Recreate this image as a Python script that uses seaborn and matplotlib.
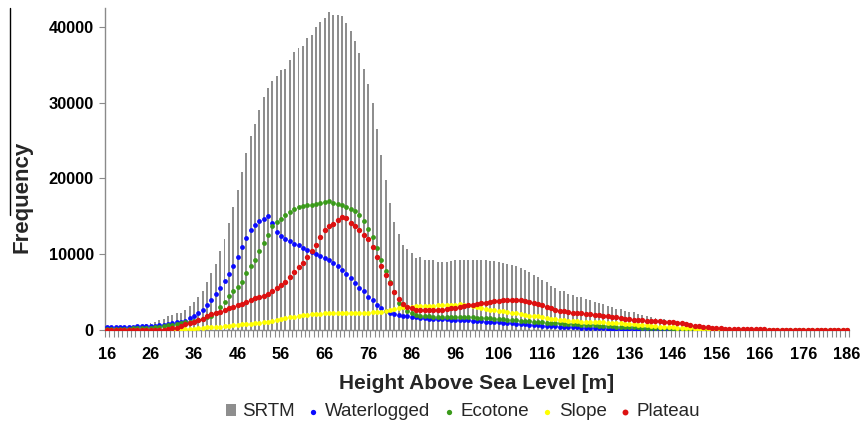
import numpy as np
import pandas as pd
import matplotlib
matplotlib.use("Agg")
import matplotlib.pyplot as plt
from matplotlib.lines import Line2D
from matplotlib.ticker import FixedLocator
import seaborn as sns

# ---------------- data ----------------
heights = list(range(16, 187))

srtm = [200, 250, 300, 350, 400, 450, 500, 600, 700, 800,
        900, 1100, 1300, 1500, 1800, 2000, 2200, 2300, 2600, 3200,
        3700, 4400, 5200, 6400, 7500, 8700, 10400, 12000, 14100, 16300,
        18500, 20800, 23300, 25600, 27200, 29100, 30700, 32000, 32800, 33500,
        34300, 34500, 35600, 36700, 37200, 37500, 38500, 39000, 40000, 40700,
        41200, 42000, 41600, 41600, 41500, 40500, 39500, 38200, 36500, 34500,
        32500, 29900, 26500, 23100, 19800, 16800, 14300, 12700, 11200, 10700,
        10100, 9500, 9600, 9200, 9200, 9250, 9000, 9000, 9000, 9100,
        9300, 9300, 9250, 9250, 9250, 9300, 9250, 9250, 9100, 9100,
        9000, 8800, 8700, 8600, 8400, 8150, 7900, 7600, 7300, 7000,
        6600, 6300, 5800, 5500, 5100, 5100, 4800, 4600, 4400, 4300,
        4050, 4000, 3700, 3500, 3400, 3200, 3100, 2800, 2800, 2550,
        2400, 2400, 2100, 2000, 1850, 1750, 1550, 1450, 1400, 1300,
        1200, 1100, 950, 900, 800, 700, 600, 500, 400, 350,
        300, 270, 240, 220, 200, 180, 170, 160, 150, 140,
        130, 120, 110, 100, 100, 90, 90, 80, 80, 80,
        70, 70, 70, 60, 60, 60, 50, 50, 50, 50, 50]

waterlogged = [400, 400, 400, 400, 420, 440, 450, 470, 480, 500,
               520, 560, 620, 700, 800, 900, 1000, 1100, 1250, 1600,
               1800, 2200, 2600, 3300, 4000, 4700, 5500, 6500, 7400, 8500,
               9700, 10900, 12200, 13200, 13900, 14400, 14700, 15000, 14100, 13000,
               12400, 12000, 11700, 11400, 11200, 10800, 10600, 10300, 10000, 9800,
               9500, 9250, 8800, 8500, 7900, 7400, 6800, 6200, 5600, 5100,
               4400, 4000, 3300, 2900, 2500, 2200, 2100, 2000, 1900, 1800,
               1700, 1650, 1600, 1550, 1500, 1480, 1450, 1420, 1400, 1370,
               1340, 1320, 1300, 1270, 1240, 1200, 1160, 1120, 1080, 1040,
               1000, 960, 920, 880, 840, 800, 760, 700, 660, 620,
               580, 550, 520, 490, 460, 430, 400, 370, 340, 310,
               280, 250, 230, 210, 200, 190, 180, 170, 160, 150,
               140, 130, 120, 110, 100, 100, 90, 90, 80, 80,
               70, 70, 60, 60, 50, 50, 50, 0, 0, 0,
               0, 0, 0, 0, 0, 0, 0, 0, 0, 0,
               0, 0, 0, 0, 0, 0, 0, 0, 0, 0,
               0, 0, 0, 0, 0, 0, 0, 0, 0, 0, 0]

ecotone = [100, 100, 120, 140, 160, 180, 200, 220, 250, 280,
           300, 350, 400, 500, 600, 700, 800, 900, 1000, 1100,
           1200, 1350, 1500, 1700, 1900, 2200, 3000, 3700, 4500, 5200,
           5700, 6400, 7500, 8400, 9300, 10400, 11500, 12600, 13700, 14300,
           14700, 15200, 15600, 16000, 16200, 16400, 16500, 16500, 16600, 16800,
           16900, 17000, 16700, 16600, 16500, 16200, 16000, 15700, 15200, 14400,
           13300, 12300, 10800, 9300, 7800, 6300, 5000, 3600, 3000, 2500,
           2200, 2000, 1900, 1850, 1800, 1780, 1760, 1750, 1740, 1730,
           1720, 1700, 1680, 1660, 1650, 1620, 1600, 1570, 1540, 1500,
           1460, 1420, 1380, 1340, 1300, 1250, 1200, 1150, 1100, 1060,
           1020, 980, 940, 900, 860, 820, 790, 760, 730, 700,
           670, 640, 610, 580, 550, 520, 490, 460, 430, 400,
           370, 350, 330, 310, 290, 270, 250, 230, 210, 200,
           180, 160, 140, 120, 100, 90, 80, 70, 60, 50,
           40, 30, 20, 20, 10, 0, 0, 0, 0, 0,
           0, 0, 0, 0, 0, 0, 0, 0, 0, 0,
           0, 0, 0, 0, 0, 0, 0, 0, 0, 0, 0]

slope = [0, 0, 0, 0, 0, 0, 0, 0, 0, 0,
         0, 0, 0, 0, 0, 20, 40, 60, 80, 100,
         150, 200, 280, 350, 400, 430, 450, 520, 580, 650,
         700, 750, 800, 850, 880, 920, 1000, 1050, 1150, 1300,
         1450, 1550, 1650, 1750, 1850, 1920, 2000, 2050, 2100, 2150,
         2200, 2250, 2250, 2300, 2300, 2300, 2300, 2300, 2300, 2300,
         2300, 2350, 2400, 2400, 2500, 2600, 2800, 2900, 3000, 3100,
         3100, 3150, 3200, 3200, 3200, 3200, 3250, 3250, 3300, 3300,
         3350, 3400, 3350, 3300, 3200, 3050, 2900, 2800, 2700, 2600,
         2500, 2450, 2350, 2300, 2200, 2100, 2000, 1900, 1850, 1800,
         1700, 1600, 1500, 1400, 1350, 1300, 1250, 1200, 1150, 1100,
         1080, 1060, 1040, 1020, 1000, 970, 940, 910, 880, 850,
         800, 750, 700, 650, 600, 550, 500, 460, 420, 380,
         340, 300, 260, 220, 200, 170, 140, 120, 100, 80,
         60, 40, 20, 0, 0, 0, 0, 0, 0, 0,
         0, 0, 0, 0, 0, 0, 0, 0, 0, 0,
         0, 0, 0, 0, 0, 0, 0, 0, 0, 0, 0]

plateau = [50, 50, 50, 50, 50, 50, 50, 50, 50, 50,
           50, 50, 50, 50, 100, 200, 300, 500, 750, 950,
           1100, 1300, 1500, 1850, 2100, 2300, 2400, 2650, 2900, 3100,
           3300, 3400, 3700, 4000, 4200, 4400, 4550, 4700, 5200, 5600,
           5900, 6400, 7000, 7700, 8300, 8800, 9700, 10400, 11200, 12300,
           13200, 13700, 14000, 14500, 14900, 14800, 14100, 13700, 13200, 12600,
           12000, 10900, 9700, 8400, 7300, 6200, 5000, 4100, 3450, 3100,
           2850, 2700, 2650, 2600, 2600, 2600, 2600, 2650, 2750, 2850,
           2950, 3050, 3150, 3250, 3350, 3450, 3550, 3600, 3700, 3800,
           3850, 3900, 3950, 4000, 3950, 3900, 3800, 3700, 3600, 3450,
           3300, 3100, 2900, 2700, 2550, 2450, 2400, 2300, 2250, 2200,
           2150, 2100, 2000, 1950, 1850, 1800, 1720, 1650, 1580, 1500,
           1420, 1380, 1330, 1280, 1230, 1200, 1170, 1130, 1100, 1080,
           1000, 930, 880, 800, 650, 580, 500, 430, 370, 300,
           250, 200, 150, 120, 100, 80, 80, 80, 70, 70,
           70, 70, 60, 60, 60, 60, 60, 60, 60, 60,
           50, 50, 50, 50, 50, 50, 50, 50, 50, 50, 50]

series_names = ["Waterlogged", "Ecotone", "Slope", "Plateau"]
series_colors = ["#0a0aff", "#3a9a1a", "#ffff00", "#dd1111"]
series_values = [waterlogged, ecotone, slope, plateau]
xtick_values = list(range(16, 187, 10))
ytick_values = [0, 10000, 20000, 30000, 40000]

# ---------------- plot ----------------
sns.set_style("white")
plt.rcParams["font.family"] = ["Liberation Sans", "DejaVu Sans"]

W, H = 861, 424
fig = plt.figure(figsize=(W / 100, H / 100), dpi=100)
ax_left, ax_right, ax_top, ax_bottom = 104.8, 849.2, 8, 330
ax = fig.add_axes([ax_left / W, 1 - ax_bottom / H,
                   (ax_right - ax_left) / W, (ax_bottom - ax_top) / H])

df = pd.DataFrame({"h": heights, "SRTM": srtm})
sns.barplot(data=df, x="h", y="SRTM", native_scale=True, color="#8e8e8e",
            saturation=1, width=0.45, errorbar=None, ax=ax, label="SRTM",
            linewidth=0, zorder=1)
if ax.get_legend() is not None:
    ax.get_legend().remove()

for name, col, vals in zip(series_names, series_colors, series_values):
    size = 15 if name == "Plateau" else 12
    sns.scatterplot(x=heights, y=vals, color=col, s=size, linewidth=0,
                    ax=ax, label=name, zorder=3, legend=False)
if ax.get_legend() is not None:
    ax.get_legend().remove()

ax.set_xlim(15.5, 186.5)
ax.set_ylim(0, 42500)

ax.xaxis.set_major_locator(FixedLocator(xtick_values))
ax.set_xticklabels([str(v) for v in xtick_values])
ax.xaxis.set_minor_locator(FixedLocator(np.arange(15.5, 187, 1.0)))
ax.set_yticks(ytick_values)
ax.set_yticklabels([str(v) for v in ytick_values])

for lab in ax.get_xticklabels() + ax.get_yticklabels():
    lab.set_fontweight("bold")
    lab.set_fontsize(11.8)
    lab.set_color("black")

ax.tick_params(axis="x", which="major", length=0, pad=12)
ax.tick_params(axis="x", which="minor", length=5, width=0.8, color="#8a8a8a",
               direction="out")
ax.tick_params(axis="y", which="major", length=4, width=0.8, color="#8a8a8a",
               direction="out", pad=4)
ax.tick_params(bottom=True, left=True, which="both")

for side in ["top", "right"]:
    ax.spines[side].set_visible(False)
for side in ["left", "bottom"]:
    ax.spines[side].set_color("#8a8a8a")
    ax.spines[side].set_linewidth(1.0)

ax.set_xlabel("Height Above Sea Level [m]", fontsize=15, fontweight="bold",
              labelpad=9)
ax.set_ylabel("Frequency", fontsize=16, fontweight="bold")
ax.yaxis.set_label_coords((33 - ax_left) / (ax_right - ax_left), 0.413)

handles, labels = ax.get_legend_handles_labels()
order = [labels.index(n) for n in ["SRTM"] + series_names]
handles = [handles[i] for i in order]
labels = [labels[i] for i in order]
fig.legend(handles, labels, loc="center", bbox_to_anchor=(463 / W, 1 - 412 / H),
           ncol=5, frameon=False, fontsize=13.5, handlelength=0.55,
           handleheight=0.55, handletextpad=0.35, columnspacing=0.7,
           markerscale=1.1, borderpad=0)

# stray vertical rule at the left edge of the original figure
fig.add_artist(Line2D([10 / W, 10 / W], [1 - 8 / H, 1 - 215 / H],
                      color="black", linewidth=1.0))

fig.savefig("out.png", dpi=100)
